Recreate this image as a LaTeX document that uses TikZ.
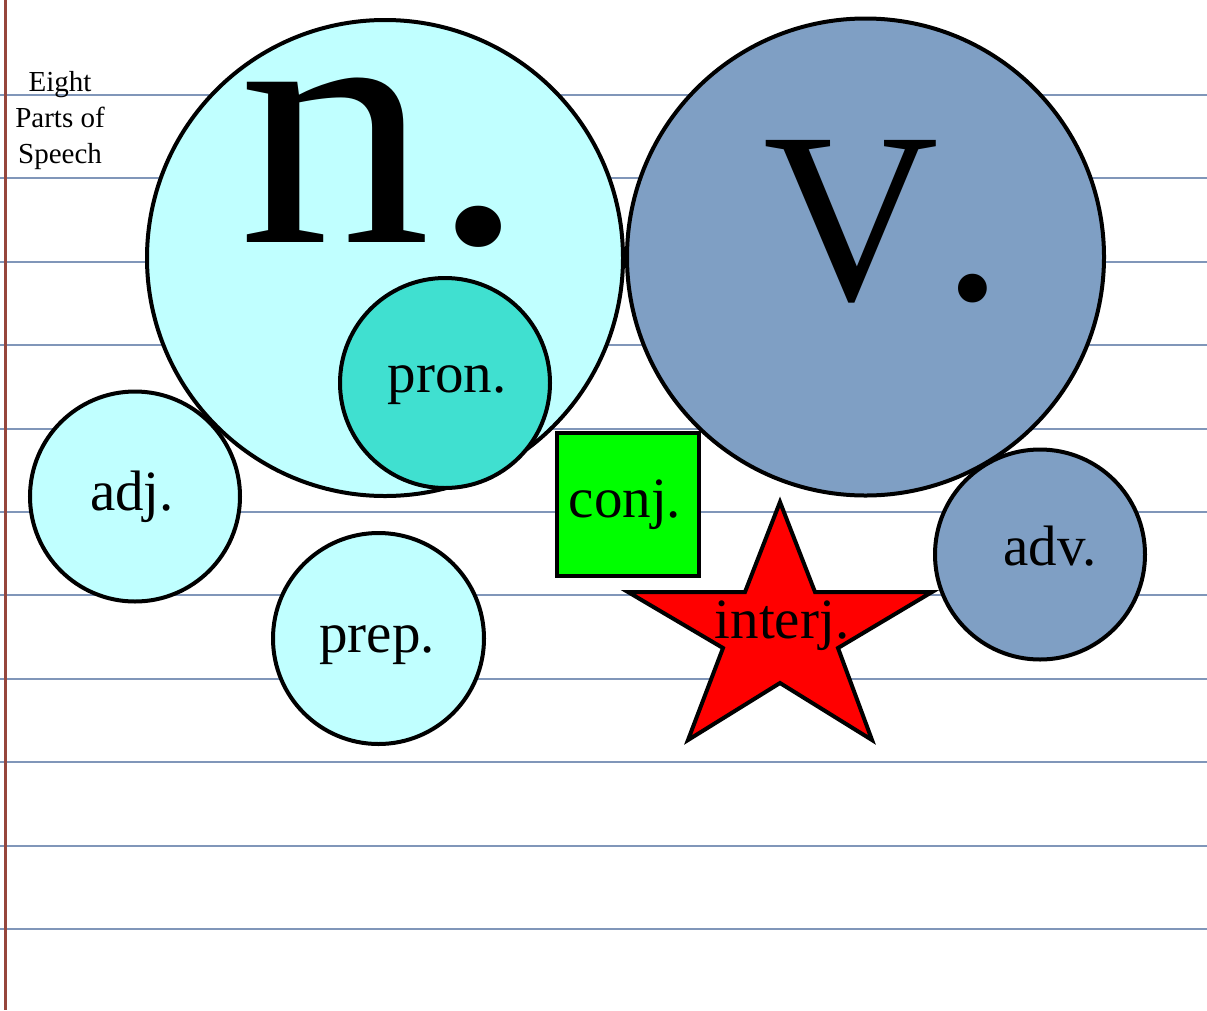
\documentclass[tikz,border=0pt]{standalone}
\usepackage{fontspec}
\setmainfont{Liberation Serif}
\begin{document}
\begin{tikzpicture}[x=1pt,y=-1pt,
  ruled/.style={draw=ruleblue,line width=2pt},
  blob/.style={circle,draw=black,line width=4pt,inner sep=0pt},
  lbl/.style={inner sep=0pt,anchor=base,font=\fontsize{57}{68}\selectfont}]
\definecolor{ruleblue}{RGB}{128,150,185}
\definecolor{marginred}{RGB}{150,70,60}
\definecolor{lightcyan}{RGB}{192,255,255}
\definecolor{steel}{RGB}{127,159,196}
\definecolor{turq}{RGB}{64,224,208}
\useasboundingbox (0,0) rectangle (1207,1010);
\fill[white] (0,0) rectangle (1207,1010);
% ruled lines
\foreach \yy in {95,178.4,261.8,345.2,428.6,512,595.4,678.8,762.2,845.6,929}
  \draw[ruled] (0,\yy) -- (1207,\yy);
\draw[marginred,line width=3pt] (5.5,0) -- (5.5,1010);
% title
\node[inner sep=0pt,align=center,font=\fontsize{29}{36}\selectfont,anchor=base] (title) at (60,163) {Eight\\Parts of\\Speech};
% shapes
\node[blob,fill=lightcyan,minimum size=476pt] (noun) at (385,258) {};
\node[blob,fill=steel,minimum size=477pt] (verb) at (865.5,257) {};
\node[blob,fill=turq,minimum size=210pt] (pron) at (445,383) {};
\node[blob,fill=lightcyan,minimum size=210pt] (adj) at (135,496.5) {};
\node[blob,fill=lightcyan,minimum size=211pt] (prep) at (378.5,638.5) {};
\node[blob,fill=steel,minimum size=210pt] (adv) at (1040,554.5) {};
\node[draw=black,fill=green,line width=4pt,minimum width=142pt,minimum height=143pt,inner sep=0pt] (conj) at (628,504.5) {};
\draw[black,fill=red,line width=4pt,line join=miter]
  (780,502) -- (815,592) -- (932,592) -- (838,648) -- (872,740) -- (780,683)
  -- (688,740) -- (723,648) -- (628,592) -- (745,592) -- cycle;
\coordinate (star) at (780,632);
% texts
\node[inner sep=0pt,anchor=base west,font=\fontsize{360}{360}\selectfont,xscale=1.07,yscale=0.97] (ntext) at (238,242) {\smash{n\kern0pt.}};
\node[inner sep=0pt,anchor=base west,font=\fontsize{243}{243}\selectfont] (vtext) at (763,299) {\smash{V\kern4pt.}};
\node[lbl] (prontext) at (447,392) {pron.};
\node[lbl] (conjtext) at (625,517) {conj.};
\node[lbl] (interjtext) at (782,638) {interj.};
\node[lbl] (adjtext) at (132,510) {adj.};
\node[lbl] (preptext) at (377,652) {prep.};
\node[lbl] (advtext) at (1050,565) {adv.};
\end{tikzpicture}
\end{document}
